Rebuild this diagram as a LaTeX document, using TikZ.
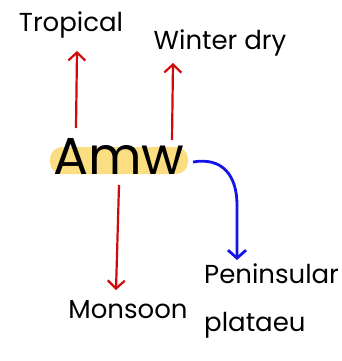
\documentclass[tikz,border=0pt]{standalone}
\usepackage{fontspec}
\setmainfont{Poppins}
\usetikzlibrary{arrows.meta}
\definecolor{hlyellow}{RGB}{252,222,130}
\definecolor{arrred}{RGB}{208,10,10}
\definecolor{arrblue}{RGB}{20,20,235}
\tikzset{
  lbl/.style={font=\fontsize{26}{30}\selectfont, inner sep=0pt},
  redarr/.style={arrred, line width=2.2pt, -{Straight Barb[length=8pt,width=17pt,line width=2.2pt]}},
  bluearr/.style={arrblue, line width=2.8pt, -{Straight Barb[length=8pt,width=18pt,line width=2.8pt]}},
}
\begin{document}
\begin{tikzpicture}[x=1pt,y=-1pt]
\useasboundingbox (0,0) rectangle (342,361);
\fill[white] (0,0) rectangle (342,361);
% highlight behind the key word
\fill[hlyellow, rounded corners=12pt] (50,147) rectangle (188,174);
\node[inner sep=0pt, font=\fontsize{52}{56}\selectfont] (amw) at (119,156) {Amw};
\node[lbl] (trop) at (71,25) {Tropical};
\node[lbl] (wint) at (220,43) {Winter dry};
\node[lbl] (mons) at (128,310) {Monsoon};
\node[lbl, anchor=north west, align=left] (penin) at (204,264) {Peninsular\\[18pt]plataeu};
\coordinate (a1) at (76,128);
\coordinate (a2) at (172,140);
\coordinate (a3) at (119,185);
\coordinate (b1) at (193,162);
\draw[redarr] (a1) -- (77,51);
\draw[redarr] (a2) -- (173,63);
\draw[redarr] (a3) -- (116,290);
\draw[bluearr] (b1) .. controls (222,157) and (237,175) .. (237,205) -- (237,260);
\end{tikzpicture}
\end{document}
